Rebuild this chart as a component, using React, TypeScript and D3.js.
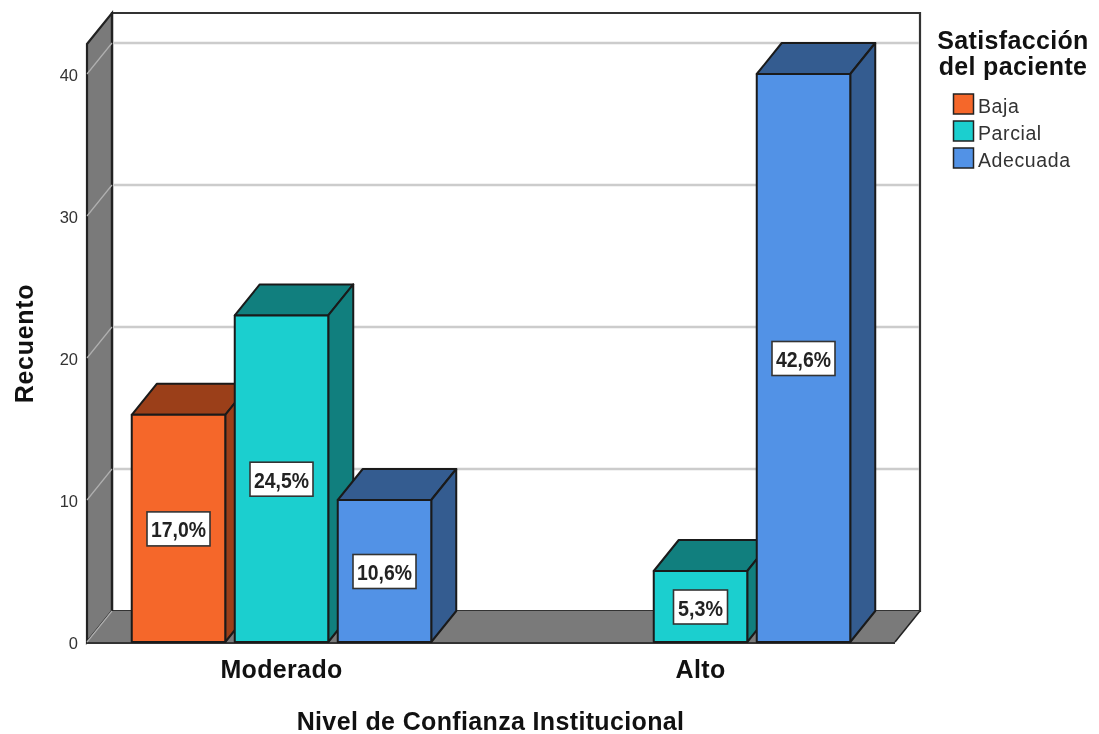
import React from "react";
import * as d3 from "d3";

const groups = ["Moderado", "Alto"];
const seriesNames = ["Baja", "Parcial", "Adecuada"];
const moderadoValues = [16, 23, 10];
const altoValues = [null, 5, 40];
const moderadoLabels = ["17,0%", "24,5%", "10,6%"];
const altoLabels = ["", "5,3%", "42,6%"];
const yTicks = [0, 10, 20, 30, 40];
const frontColors = ["#F5672A", "#1BCFCF", "#5292E6"];
const sideColors = ["#9B3F19", "#117F7E", "#345C90"];

const FONT = "'Liberation Sans', Arial, sans-serif";
const dx = 25, dy = -31;
const x0 = 87, x1 = 895, yBase = 642, yTop = 44;

export default function App() {
  const y = d3.scaleLinear().domain([0, 40]).range([yBase, 74]);
  const gx = d3.scalePoint<string>().domain(groups).range([281.5, 700.5]);
  const sx = d3.scaleBand<string>().domain(seriesNames).range([-154.5, 154.5]).paddingInner(0.09).paddingOuter(0.045);
  const bw = 93.5;
  const rows = [moderadoValues, altoValues];
  const labels = [moderadoLabels, altoLabels];
  const poly = (p: number[][]) => p.map((q) => q.join(",")).join(" ");
  const line = "#1a1a1a";
  const boldText = { fontSize: 25, fontWeight: "bold", fill: "#111", textAnchor: "middle", letterSpacing: 0.35 } as const;
  return (
    <svg width={1099} height={734} style={{ position: "absolute", left: 0, top: 0, background: "#fff", filter: "blur(0.4px)" }} fontFamily={FONT}>
      <polygon points={poly([[x0 + dx, yTop + dy], [x1 + dx, yTop + dy], [x1 + dx, yBase + dy], [x0 + dx, yBase + dy]])} fill="#fff" stroke="#333" strokeWidth={2.2} />
      <polygon points={poly([[x0, yTop], [x0 + dx, yTop + dy], [x0 + dx, yBase + dy], [x0, yBase]])} fill="#7A7A7A" stroke="#222" strokeWidth={2.2} />
      <polygon points={poly([[x0, yBase], [x0 + dx, yBase + dy], [x1 + dx, yBase + dy], [x1, yBase]])} fill="#7A7A7A" stroke="none" />
      <line x1={x0 + dx} y1={yBase + dy} x2={x0 + dx} y2={yTop + dy} stroke="#222" strokeWidth={2.2} />
      <line x1={x1 + dx} y1={yBase + dy} x2={x1} y2={yBase} stroke="#222" strokeWidth={1.5} />
      <line x1={x0} y1={yBase + 1} x2={x1} y2={yBase + 1} stroke="#333" strokeWidth={2.2} />
      {yTicks.map((t) => (
        <g key={t}>
          <line x1={x0} y1={y(t)} x2={x0 + dx} y2={y(t) + dy} stroke="#B0B0B0" strokeWidth={1.2} />
          {t > 0 && <line x1={x0 + dx + 1} y1={y(t) + dy} x2={x1 + dx - 1} y2={y(t) + dy} stroke="#CCCCCC" strokeWidth={2.4} />}
          <text x={78} y={y(t) + 7} textAnchor="end" fontSize={16.5} fill="#333">{t}</text>
        </g>
      ))}
      {groups.map((g, gi) =>
        seriesNames.map((s, si) => {
          const v = rows[gi][si];
          if (v == null) return null;
          const left = gx(g)! + sx(s)! + (sx.bandwidth() - bw) / 2;
          const top = y(v);
          const right = left + bw;
          return (
            <g key={g + s} stroke={line} strokeWidth={2} strokeLinejoin="round">
              <polygon points={poly([[left, top], [left + dx, top + dy], [right + dx, top + dy], [right, top]])} fill={sideColors[si]} />
              <polygon points={poly([[right, top], [right + dx, top + dy], [right + dx, yBase + dy], [right, yBase]])} fill={sideColors[si]} />
              <rect x={left} y={top} width={bw} height={yBase - top} fill={frontColors[si]} />
            </g>
          );
        })
      )}
      {groups.map((g, gi) =>
        seriesNames.map((s, si) => {
          const v = rows[gi][si];
          if (v == null) return null;
          const cx = gx(g)! + sx(s)! + sx.bandwidth() / 2;
          const cy = y(v / 2) + 0.5;
          const long = labels[gi][si].length > 4;
          const w = long ? 63 : 54;
          return (
            <g key={g + s + "l"}>
              <rect x={cx - w / 2} y={cy - 17} width={w} height={34} fill="#fff" stroke="#333" strokeWidth={1.6} />
              <text x={cx} y={cy + 8.5} textAnchor="middle" fontSize={22} fontWeight="bold" fill="#222" textLength={long ? 55 : 45} lengthAdjust="spacingAndGlyphs">{labels[gi][si]}</text>
            </g>
          );
        })
      )}
      {groups.map((g) => (
        <text key={g} x={gx(g)} y={678} {...boldText}>{g}</text>
      ))}
      <text x={490.5} y={730} {...boldText}>Nivel de Confianza Institucional</text>
      <text transform="translate(33,343.5) rotate(-90)" {...boldText} letterSpacing={0.7}>Recuento</text>
      <text x={1013} y={49} {...boldText}>Satisfacción</text>
      <text x={1013} y={75} {...boldText}>del paciente</text>
      {seriesNames.map((s, i) => (
        <g key={s}>
          <rect x={953.5} y={94 + i * 27} width={20} height={20} fill={frontColors[i]} stroke="#222" strokeWidth={1.5} />
          <text x={978} y={113 + i * 27} fontSize={19.5} letterSpacing={0.6} fill="#333">{s}</text>
        </g>
      ))}
    </svg>
  );
}
